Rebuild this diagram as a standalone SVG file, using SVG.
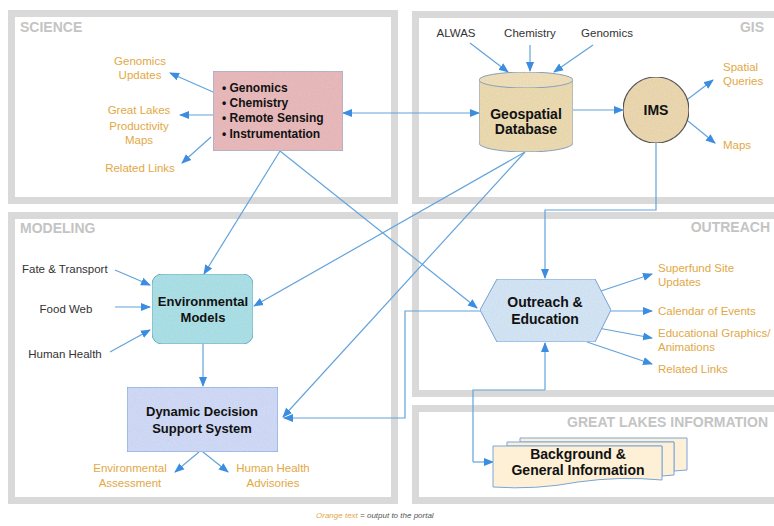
<svg xmlns="http://www.w3.org/2000/svg" width="774" height="526" viewBox="0 0 774 526">
<defs>
<marker id="ah" markerUnits="userSpaceOnUse" markerWidth="10" markerHeight="10" viewBox="0 0 10 10" refX="9" refY="5" orient="auto">
<path d="M0,1 L10,5 L0,9 Z" fill="#3a8de0"/>
</marker>
<marker id="ahs" markerUnits="userSpaceOnUse" markerWidth="10" markerHeight="10" viewBox="0 0 10 10" refX="1" refY="5" orient="auto">
<path d="M10,1 L0,5 L10,9 Z" fill="#3a8de0"/>
</marker>
<filter id="tex" x="0" y="0" width="1" height="1">
<feTurbulence type="fractalNoise" baseFrequency="0.7" numOctaves="2" seed="3" result="n"/>
<feColorMatrix in="n" type="matrix" values="0 0 0 0 0.7  0 0 0 0 0.7  0 0 0 0 0.7  0 0 0 0.4 0" result="g"/>
<feComposite in="g" in2="SourceGraphic" operator="in" result="gi"/>
<feBlend in="gi" in2="SourceGraphic" mode="multiply"/>
</filter>
</defs>
<style>
.panel{fill:#ffffff;stroke:#d9d9d9;stroke-width:7}
.ptitle{font-family:"Liberation Sans",Arial,sans-serif;font-weight:bold;font-size:14px;fill:#c4c4c4}
.lbl{font-family:"Liberation Sans",Arial,sans-serif;font-size:11.5px;fill:#333333}
.out{font-family:"Liberation Sans",Arial,sans-serif;font-size:11.5px;fill:#e2a845}
.nt{font-family:"Liberation Sans",Arial,sans-serif;font-weight:bold;fill:#111111}
.c{fill:none;stroke:#62a3dc;stroke-width:1.2}
.ca{fill:none;stroke:#62a3dc;stroke-width:1.2;marker-end:url(#ah)}
.tx{filter:url(#tex)}
</style>
<rect width="774" height="526" fill="#ffffff"/>
<g id="panels">
<rect class="panel" x="11.5" y="13.5" width="383" height="187"/>
<rect class="panel" x="415.5" y="14.5" width="370" height="186"/>
<rect class="panel" x="11.5" y="215.5" width="383" height="285"/>
<rect class="panel" x="415.5" y="215.5" width="370" height="178"/>
<rect class="panel" x="415.5" y="408.5" width="370" height="92"/>
<text class="ptitle" x="20" y="32">SCIENCE</text>
<text class="ptitle" x="764" y="32" text-anchor="end">GIS</text>
<text class="ptitle" x="20" y="233">MODELING</text>
<text class="ptitle" x="770" y="232" text-anchor="end">OUTREACH</text>
<text class="ptitle" x="768" y="427" text-anchor="end">GREAT LAKES INFORMATION</text>
</g>
<g id="connectors">
<line class="ca" x1="213" y1="92" x2="170" y2="73"/>
<line class="ca" x1="213" y1="115" x2="180" y2="115"/>
<line class="ca" x1="211" y1="137" x2="182" y2="163"/>
<line class="ca" x1="343" y1="113" x2="479" y2="113" style="marker-start:url(#ahs)"/>
<line class="ca" x1="470" y1="43" x2="508" y2="72"/>
<line class="ca" x1="530" y1="45" x2="530" y2="71"/>
<line class="ca" x1="593" y1="45" x2="554" y2="72"/>
<line class="ca" x1="573" y1="110" x2="623" y2="110"/>
<line class="ca" x1="688" y1="99" x2="713" y2="80"/>
<line class="ca" x1="688" y1="121" x2="715" y2="143"/>
<polyline class="ca" points="656,143 656,210 545,210 545,278"/>
<line class="ca" x1="280" y1="151" x2="204" y2="274"/>
<line class="ca" x1="280" y1="151" x2="477" y2="308"/>
<line class="ca" x1="525" y1="152" x2="254" y2="306"/>
<line class="ca" x1="525" y1="152" x2="283" y2="417"/>
<polyline class="ca" points="481,311 405,311 405,418 284,418"/>
<line class="ca" x1="115" y1="270" x2="150" y2="285"/>
<line class="ca" x1="115" y1="307" x2="150" y2="307"/>
<line class="ca" x1="110" y1="352" x2="150" y2="330"/>
<line class="ca" x1="203" y1="344" x2="203" y2="386"/>
<line class="ca" x1="199" y1="452" x2="175" y2="472"/>
<line class="ca" x1="203" y1="452" x2="228" y2="472"/>
<line class="ca" x1="598" y1="292" x2="652" y2="274"/>
<line class="ca" x1="610" y1="311" x2="652" y2="311"/>
<line class="ca" x1="598" y1="328" x2="652" y2="338"/>
<line class="ca" x1="587" y1="342" x2="652" y2="364"/>
<polyline class="ca" points="545,390 545,343"/>
<polyline class="c" points="545,390 473,390 473,462"/>
<line class="ca" x1="473" y1="462" x2="493" y2="462"/>
</g>
<g id="science">
<rect class="tx" x="213" y="71" width="130" height="80" fill="#ecbcbe" stroke="#8ab0d8" stroke-width="1"/>
<text class="nt" font-size="12" x="222" y="92">• Genomics</text>
<text class="nt" font-size="12" x="222" y="107">• Chemistry</text>
<text class="nt" font-size="12" x="222" y="122">• Remote Sensing</text>
<text class="nt" font-size="12" x="222" y="138">• Instrumentation</text>
</g>
<g id="science-outputs">
<text class="out" x="140" y="65" text-anchor="middle">Genomics</text>
<text class="out" x="140" y="79" text-anchor="middle">Updates</text>
<text class="out" x="139" y="114" text-anchor="middle">Great Lakes</text>
<text class="out" x="139" y="130" text-anchor="middle">Productivity</text>
<text class="out" x="139" y="144" text-anchor="middle">Maps</text>
<text class="out" x="140" y="172" text-anchor="middle">Related Links</text>
</g>
<g id="gis-inputs">
<text class="lbl" x="456" y="37" text-anchor="middle">ALWAS</text>
<text class="lbl" x="530" y="37" text-anchor="middle">Chemistry</text>
<text class="lbl" x="607" y="37" text-anchor="middle">Genomics</text>
</g>
<g id="geodb">
<path class="tx" d="M479,80 L479,143 A47,9 0 0 0 573,143 L573,80" fill="#efddb3" stroke="#8aa4bf" stroke-width="1"/>
<ellipse class="tx" cx="526" cy="80" rx="47" ry="8" fill="#f2e2bc" stroke="#8aa4bf" stroke-width="1"/>
<text class="nt" font-size="14" x="526" y="119" text-anchor="middle">Geospatial</text>
<text class="nt" font-size="14" x="526" y="134" text-anchor="middle">Database</text>
</g>
<g id="ims">
<circle class="tx" cx="656" cy="110" r="33" fill="#eedab2" stroke="#555555" stroke-width="1.2"/>
<text class="nt" font-size="14" x="656" y="115" text-anchor="middle">IMS</text>
</g>
<g id="gis-outputs">
<text class="out" x="723" y="71">Spatial</text>
<text class="out" x="723" y="85">Queries</text>
<text class="out" x="723" y="149">Maps</text>
</g>
<g id="model-inputs">
<text class="lbl" x="22" y="273">Fate &amp; Transport</text>
<text class="lbl" x="66" y="313" text-anchor="middle">Food Web</text>
<text class="lbl" x="65" y="358" text-anchor="middle">Human Health</text>
</g>
<g id="envmodels">
<rect class="tx" x="152" y="274" width="101" height="70" rx="10" fill="#aee3ea" stroke="#6fb0cc" stroke-width="1"/>
<text class="nt" font-size="13" x="203" y="306" text-anchor="middle">Environmental</text>
<text class="nt" font-size="13" x="203" y="322" text-anchor="middle">Models</text>
</g>
<g id="ddss">
<rect class="tx" x="127" y="387" width="151" height="65" fill="#d3ddfa" stroke="#7aa6d8" stroke-width="1"/>
<text class="nt" font-size="13" x="202" y="416" text-anchor="middle">Dynamic Decision</text>
<text class="nt" font-size="13" x="202" y="433" text-anchor="middle">Support System</text>
</g>
<g id="ddss-outputs">
<text class="out" x="130" y="472" text-anchor="middle">Environmental</text>
<text class="out" x="130" y="487" text-anchor="middle">Assessment</text>
<text class="out" x="273" y="472" text-anchor="middle">Human Health</text>
<text class="out" x="273" y="487" text-anchor="middle">Advisories</text>
</g>
<g id="outreach">
<polygon class="tx" points="480,310 497,279 595,279 611,310 595,342 497,342" fill="#d6e8f9" stroke="#7aa6d8" stroke-width="1"/>
<text class="nt" font-size="14" x="545" y="307" text-anchor="middle">Outreach &amp;</text>
<text class="nt" font-size="14" x="545" y="324" text-anchor="middle">Education</text>
</g>
<g id="outreach-outputs">
<text class="out" x="658" y="272">Superfund Site</text>
<text class="out" x="658" y="286">Updates</text>
<text class="out" x="658" y="315">Calendar of Events</text>
<text class="out" x="658" y="337">Educational Graphics/</text>
<text class="out" x="658" y="351">Animations</text>
<text class="out" x="658" y="373">Related Links</text>
</g>
<g id="background">
<path d="M520,438 L687,438 L687,470 L674,471 L674,442 L520,442 Z" fill="#fdf0d6" stroke="#7aa6d8" stroke-width="1"/>
<path d="M507,442 L674,442 L674,475 L662,476 L662,446 L507,446 Z" fill="#fdf0d6" stroke="#7aa6d8" stroke-width="1"/>
<path d="M493,446 L662,446 L662,480 Q620,476 578,482 Q536,490 493,487 Z" fill="#fdf0d6" stroke="#7aa6d8" stroke-width="1"/>
<text class="nt" font-size="14" x="578" y="459" text-anchor="middle">Background &amp;</text>
<text class="nt" font-size="14" x="578" y="475" text-anchor="middle">General Information</text>
</g>
<g id="legend">
<text font-family="'Liberation Sans',Arial,sans-serif" font-size="8" font-style="italic" x="316" y="518"><tspan fill="#e2a845">Orange text</tspan><tspan fill="#555555"> = output to the portal</tspan></text>
</g>
</svg>
